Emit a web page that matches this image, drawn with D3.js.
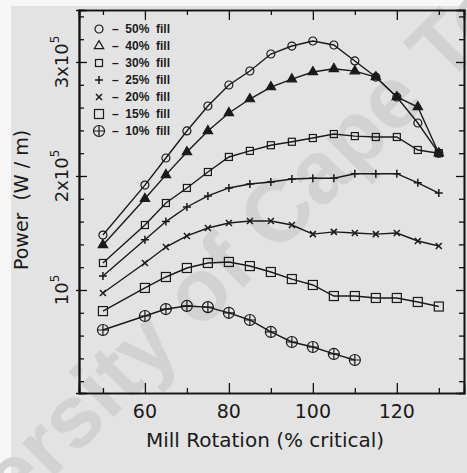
<!DOCTYPE html>
<meta charset="utf-8">
<style>
body { margin: 0; background: #fff; }
svg { display: block; }
.lbl { font-family: "DejaVu Sans", sans-serif; fill: #1a1a1a; }
.leg { font-family: "Liberation Sans", Arial, sans-serif; fill: #1a1a1a; }
.axis path { stroke: #111; stroke-width: 1.6px; }
.axis line { stroke: #111; stroke-width: 1.3px; }
</style>
<body>
<svg id="chart" width="467" height="473"></svg>
<script src="https://d3js.org/d3.v7.min.js"></script>
<script>

// mill rotation (% critical) and power (W/m) for each ball filling
var rotation = [50, 60, 65, 70, 75, 80, 85, 90, 95, 100, 105, 110, 115, 120, 125, 130];
var fill50 = [148200, 192000, 215800, 239500, 261400, 279800, 292100, 307000, 314000, 318400, 314900, 300900, 286800, 269300, 246500, 220000];
var fill40 = [139500, 180000, 201000, 221000, 239500, 255300, 267500, 278000, 285000, 291200, 294000, 292000, 286800, 269300, 260500, 220000];
var fill30 = [123700, 157000, 176300, 189500, 203500, 216700, 222000, 227000, 230000, 233300, 236800, 235000, 234200, 234200, 222800, 220000];
var fill25 = [112300, 144000, 160000, 172800, 182500, 189500, 193000, 194700, 197400, 198000, 198000, 202000, 202000, 202000, 194000, 185000];
var fill20 = [97400, 123700, 137700, 147400, 154400, 158800, 160500, 160500, 157000, 149000, 151000, 150000, 149000, 150000, 143000, 138600];
var fill15 = [81500, 101800, 111400, 119300, 123700, 124600, 121000, 115800, 109600, 104400, 94700, 94700, 93000, 93000, 89500, 85500];
var fill10 = [64900, 77200, 83300, 86000, 85000, 80000, 73700, 63200, 54400, 50000, 43900, 38600];

var legendNames = ["50% fill", "40% fill", "30% fill", "25% fill", "20% fill", "15% fill", "10% fill"];
var xMajor = [60, 80, 100, 120];
var xMinor = [50, 70, 90, 110, 130];
var yMajor = [100000, 200000, 300000];
var yLabels = ["10", "2x10", "3x10"];

var series = [
  {name: legendNames[0], values: fill50, mark: "circle"},
  {name: legendNames[1], values: fill40, mark: "triangle"},
  {name: legendNames[2], values: fill30, mark: "square"},
  {name: legendNames[3], values: fill25, mark: "plus"},
  {name: legendNames[4], values: fill20, mark: "cross"},
  {name: legendNames[5], values: fill15, mark: "bigsquare"},
  {name: legendNames[6], values: fill10, mark: "oplus"}
];

var svg = d3.select("#chart");
var L = 79, R = 464, T = 10, B = 393;

var x = d3.scaleLinear().domain([44.3, 136]).range([L, R]);
var y = d3.scaleLinear().domain([9650, 345600]).range([B, T]);

// paper background (scan)
svg.append("rect").attr("width", 467).attr("height", 473).attr("fill", "#f7f7f7");
svg.append("rect").attr("x", 11).attr("y", 6).attr("width", 456).attr("height", 467).attr("fill", "#e3e3e3");

// faint watermark, placed so the "C" of "Cape" sits where it does in the scan
var wmText = "University of Cape Town";
var wm = svg.append("text")
    .attr("transform", "translate(298,233) rotate(-45)")
    .style("font-family", "'Liberation Sans', Arial, sans-serif")
    .style("font-size", "88px")
    .style("font-weight", "bold")
    .attr("fill", "#d2d2d2")
    .text(wmText);
var ci = wmText.indexOf("Cape");
var off = wm.node().getSubStringLength(0, ci) + wm.node().getSubStringLength(ci, 1) / 2;
wm.attr("x", -off);

var yMinor = d3.range(20000, 345000, 20000).filter(function(v) { return v % 100000 !== 0; });

function axis(gen, tx, ty, vals, size) {
  svg.append("g").attr("class", "axis")
      .attr("transform", "translate(" + tx + "," + ty + ")")
      .call(gen.tickValues(vals).tickSize(size).tickFormat(""));
}
axis(d3.axisBottom(x), 0, B, xMajor, -10);
axis(d3.axisBottom(x), 0, B, xMinor, -5);
axis(d3.axisTop(x), 0, T, xMajor, -10);
axis(d3.axisTop(x), 0, T, xMinor, -5);
axis(d3.axisLeft(y), L, 0, yMajor, -8);
axis(d3.axisLeft(y), L, 0, yMajor, 3);
axis(d3.axisLeft(y), L, 0, yMinor, -5);
axis(d3.axisRight(y), R, 0, yMajor, -8);
axis(d3.axisRight(y), R, 0, yMinor, -5);
svg.selectAll(".axis path").attr("fill", "none");

// x tick labels
svg.selectAll(".xl").data(xMajor).enter().append("text")
    .attr("class", "lbl")
    .attr("x", function(d) { return x(d); })
    .attr("y", 418)
    .attr("text-anchor", "middle")
    .style("font-size", "19px")
    .text(function(d) { return d; });

// y tick labels, rotated with superscript
yMajor.forEach(function(v, i) {
  var t = svg.append("text").attr("class", "lbl")
      .attr("transform", "translate(68," + y(v) + ") rotate(-90)")
      .attr("text-anchor", "middle")
      .style("font-size", "18px");
  t.append("tspan").text(yLabels[i]);
  t.append("tspan").attr("dy", -9).style("font-size", "12px").text("5");
});

svg.append("text").attr("class", "lbl")
    .attr("x", 265).attr("y", 447)
    .attr("text-anchor", "middle")
    .style("font-size", "20px")
    .text("Mill Rotation (% critical)");

svg.append("text").attr("class", "lbl")
    .attr("transform", "translate(28,200) rotate(-90)")
    .attr("text-anchor", "middle")
    .style("font-size", "19px")
    .attr("xml:space", "preserve")
    .text("Power  (W / m)");

var line = d3.line()
    .x(function(d) { return x(d[0]); })
    .y(function(d) { return y(d[1]); });

function drawMark(g, mark, cx, cy, legend) {
  var s = g.append("g").attr("transform", "translate(" + cx + "," + cy + ")")
      .attr("stroke", "#1a1a1a").attr("stroke-width", 1.2).attr("fill", "none");
  if (mark == "circle") {
    s.append("circle").attr("r", 4);
  } else if (mark == "triangle") {
    s.append("path").attr("d", d3.symbol().type(d3.symbolTriangle).size(38)())
        .attr("fill", legend ? "none" : "#1a1a1a");
  } else if (mark == "square") {
    s.append("rect").attr("x", -3.5).attr("y", -3.5).attr("width", 7).attr("height", 7);
  } else if (mark == "plus") {
    s.append("path").attr("d", "M-4,0H4M0,-4V4").attr("stroke-width", 1.5);
  } else if (mark == "cross") {
    s.append("path").attr("d", "M-3,-3L3,3M-3,3L3,-3").attr("stroke-width", 1.5);
  } else if (mark == "bigsquare") {
    s.append("rect").attr("x", -4.5).attr("y", -4.5).attr("width", 9).attr("height", 9);
  } else if (mark == "oplus") {
    s.append("circle").attr("r", 5.5);
    s.append("path").attr("d", "M-5.5,0H5.5M0,-5.5V5.5");
  }
}

series.forEach(function(s) {
  var pts = s.values.map(function(v, i) { return [rotation[i], v]; });
  svg.append("path").datum(pts)
      .attr("d", line)
      .attr("fill", "none")
      .attr("stroke", "#1a1a1a")
      .attr("stroke-width", 1.4);
  var g = svg.append("g");
  pts.forEach(function(p) { drawMark(g, s.mark, x(p[0]), y(p[1]), false); });
});

// legend
var lg = svg.append("g");
series.forEach(function(s, i) {
  var ly = 29 + i * 17;
  drawMark(lg, s.mark, 99, ly, true);
  lg.append("text").attr("class", "leg")
      .attr("x", 112).attr("y", ly + 4)
      .style("font-size", "12px")
      .style("font-weight", "bold")
      .attr("xml:space", "preserve")
      .text("–  " + s.name.replace(" ", "  "));
});

</script>
</body>
